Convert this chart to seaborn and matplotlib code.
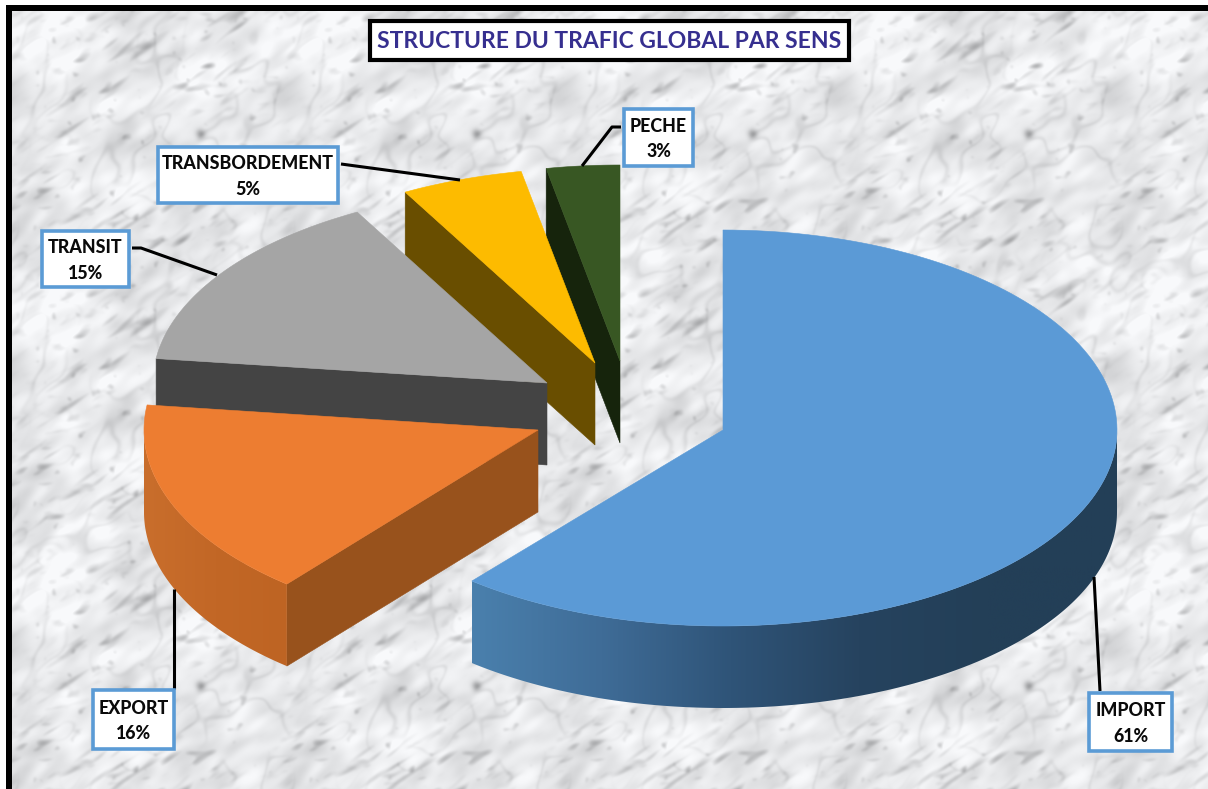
import numpy as np
import matplotlib
matplotlib.use("Agg")
import matplotlib.pyplot as plt
from matplotlib.colors import LinearSegmentedColormap
from matplotlib.patches import Polygon, Rectangle
import seaborn as sns

# Traffic shares by direction (%)
categories = ["IMPORT", "EXPORT", "TRANSIT", "TRANSBORDEMENT", "PECHE"]
shares = [61, 16, 15, 5, 3]
title = "STRUCTURE DU TRAFIC GLOBAL PAR SENS"

# Styling per slice
top_colors = ["#5B9AD6", "#ED7D31", "#A5A5A5", "#FDBB00", "#385723"]
cut_colors = ["#2A4A68", "#98521C", "#444444", "#694E00", "#16240C"]
rim_stops = [
    ["#4A80AD", "#3F6C97", "#2F5478", "#26435F", "#233F57", "#233F57"],
    ["#C96E2C", "#C26726", "#BE6423"],
    ["#444444", "#444444"],
    ["#694E00", "#694E00"],
    ["#16240C", "#16240C"],
]

# Layout in pixels: apex of each exploded slice, ellipse radii (far and near half),
# extrusion depth
apex = [(723, 430), (538, 430), (547, 383), (595, 363), (620, 361)]
RX = 394
ry_far = [200, 200, 195, 195, 196]
ry_near = [196, 200, 195, 195, 196]
DEPTH = 82
W, H = 1208, 789

# Callout boxes (left, top, right, bottom) and their leader lines
boxes = [(1089, 693, 1172, 751), (93, 690, 174, 749), (42, 231, 129, 287),
         (158, 147, 338, 203), (624, 109, 693, 166)]
leaders = [
    [(1094, 577), (1100, 691)],
    [(174, 589), (174, 689)],
    [(132, 248), (141, 248), (217, 275)],
    [(341, 164), (460, 180)],
    [(621, 127), (612, 127), (582, 166)],
]


def band_noise(n, rng, scale, stretch=1.0, angle=35.0):
    """Periodic gaussian-filtered noise, elongated along the given direction."""
    f = np.fft.fftfreq(n)
    fx, fy = np.meshgrid(f, f)
    a = np.deg2rad(angle)
    along = fx * np.cos(a) - fy * np.sin(a)
    across = fx * np.sin(a) + fy * np.cos(a)
    r2 = (along * stretch) ** 2 + across ** 2
    spec = np.exp(-r2 * (scale * 2 * np.pi) ** 2 / 2)
    out = np.fft.ifft2(np.fft.fft2(rng.standard_normal((n, n))) * spec).real
    return (out - out.mean()) / out.std()


def soften(img, sigma):
    f = np.fft.fftfreq(img.shape[0])
    fx, fy = np.meshgrid(f, f)
    spec = np.exp(-(fx ** 2 + fy ** 2) * (sigma * 2 * np.pi) ** 2 / 2)
    return np.fft.ifft2(np.fft.fft2(img) * spec).real


def marble_tile(n=276, seed=11):
    """Repeating white marble tile with soft grey veining and diagonal streaks."""
    rng = np.random.default_rng(seed)
    clouds = band_noise(n, rng, 14, 1.6)
    mottle = band_noise(n, rng, 4.0, 1.8)
    mask = band_noise(n, rng, 16, 1.4)
    long_streaks = band_noise(n, rng, 1.8, 5.0)
    short_streaks = band_noise(n, rng, 2.2, 2.2, angle=15)
    specks = band_noise(n, rng, 2.5, 1.0)
    network = band_noise(n, rng, 6.5, 1.5, angle=50)
    weight = np.clip(0.7 + 0.55 * mask, 0.1, 1.4)
    v = (235 + 6 * clouds + 6 * mottle
         - 24 * np.clip(long_streaks - 0.9, 0, None) * weight
         - 22 * np.clip(short_streaks - 1.1, 0, None) * weight
         - 32 * np.clip(specks - 1.9, 0, None)
         - 20 * np.exp(-(network / 0.22) ** 2) * np.clip(0.55 - 0.5 * mask, 0, 1))
    # Dark blotch that recurs with the tile
    yy, xx = np.mgrid[0:n, 0:n]
    v -= 70 * np.exp(-(((xx - 200) / 4.5) ** 2 + ((yy - 133) / 4.5) ** 2))
    v = soften(v, 1.0)
    v = np.clip(v, 120, 248)
    return np.dstack([v, v + 1, v + 3]).clip(0, 255).astype(np.uint8)


def rim_point(i, theta, drop=0.0):
    """Point on slice i's projected circle; theta runs clockwise from 12 o'clock."""
    t = np.deg2rad(theta)
    c = np.cos(t)
    radius_y = np.where(c >= 0, ry_far[i], ry_near[i])
    return apex[i][0] + RX * np.sin(t), apex[i][1] - radius_y * c + drop


def arc(i, t0, t1, drop=0.0, n=160):
    xs, ys = rim_point(i, np.linspace(t0, t1, n), drop)
    return np.column_stack([xs, ys])


sns.set_theme(style="white")
plt.rcParams["font.family"] = ["Lato", "DejaVu Sans"]
fig = plt.figure(figsize=(W / 100, H / 100), dpi=100)
ax = fig.add_axes([0, 0, 1, 1])

# Marble backdrop inside the black top and left frame
tile = marble_tile()
sheet = np.tile(tile, (H // 276 + 1, W // 276 + 1, 1))[:H, :W]
ax.imshow(sheet, extent=(0, W, H, 0), interpolation="bilinear", zorder=0, aspect="auto")
ax.add_patch(Rectangle((0, 0), W, 5, color="white", lw=0, zorder=1))
ax.add_patch(Rectangle((0, 0), 6, H, color="white", lw=0, zorder=1))
ax.add_patch(Rectangle((6, 5), W, 5.5, color="black", lw=0, zorder=1))
ax.add_patch(Rectangle((6, 5), 5.5, H, color="black", lw=0, zorder=1))

# Slice angles from the shares
edges = np.concatenate([[0], np.cumsum(shares)]) * 360.0 / sum(shares)
palette = sns.color_palette(top_colors)

# Paint back to front: last slice first
for i in reversed(range(len(shares))):
    t0, t1 = edges[i], edges[i + 1]
    c = apex[i]
    z = 2 + (len(shares) - i) * 3

    # Cut face along the slice's starting radius, when it faces the viewer
    if t0 > 180:
        rim = rim_point(i, t0)
        face = [rim, c, (c[0], c[1] + DEPTH), (rim[0], rim[1] + DEPTH)]
        ax.add_patch(Polygon(face, closed=True, fc=cut_colors[i], ec=cut_colors[i], lw=0.4, zorder=z))

    # Outer wall, shaded left to right
    lo, hi = max(t0, 90), min(t1, 270)
    if hi > lo:
        outline = np.vstack([arc(i, lo, hi), arc(i, hi, lo, DEPTH)])
        poly = Polygon(outline, closed=True, fc="none", ec="none", transform=ax.transData)
        ax.add_patch(poly)
        cmap = LinearSegmentedColormap.from_list("wall", rim_stops[i])
        x0, x1 = outline[:, 0].min(), outline[:, 0].max()
        y0, y1 = outline[:, 1].min(), outline[:, 1].max()
        grad = ax.imshow(np.linspace(0, 1, 256)[None, :], cmap=cmap, aspect="auto",
                         extent=(x0, x1, y1, y0), zorder=z + 1)
        grad.set_clip_path(poly)

    # Top face
    top = np.vstack([[c], arc(i, t0, t1)])
    ax.add_patch(Polygon(top, closed=True, fc=palette[i], ec=palette[i], lw=0.4, zorder=z + 2))

# Leader lines and callouts
for name, share, box, line in zip(categories, shares, boxes, leaders):
    xs, ys = zip(*line)
    ax.plot(xs, ys, color="black", lw=2.2, solid_capstyle="butt", solid_joinstyle="round", zorder=30)
    l, t, r_, b = box
    ax.add_patch(Rectangle((l, t), r_ - l, b - t, fc="white", ec="#5B9BD5", lw=2.6, zorder=31))
    ax.text((l + r_) / 2, (t + b) / 2 + 1.5, f"{name}\n{share}%", ha="center", va="center",
            fontsize=12.8, fontweight="black", color="#0A0A0A", linespacing=1.62, zorder=32)

# Title banner
ax.add_patch(Rectangle((370, 21), 479, 39, fc="white", ec="black", lw=3.0, zorder=31))
ax.text(609.5, 41, title, ha="center", va="center", fontsize=16.5, fontweight="bold",
        color="#362F8F", zorder=32)

ax.set_xlim(0, W)
ax.set_ylim(H, 0)
ax.axis("off")
fig.savefig("out.png", dpi=100)
